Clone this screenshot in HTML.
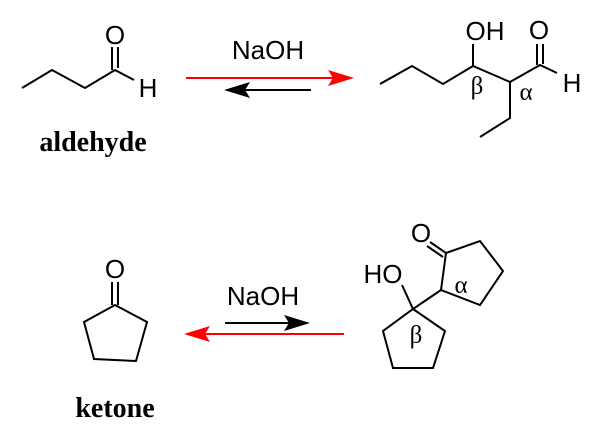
<!DOCTYPE html>
<html><head><meta charset="utf-8"><style>
html,body{margin:0;padding:0;background:#fff}
svg{display:block}
.a{font-family:"Liberation Sans",sans-serif;font-size:26px;fill:#000}
.g{font-family:"Liberation Serif",serif;font-size:25px;fill:#000}
.b{font-family:"Liberation Serif",serif;font-size:28px;font-weight:bold;fill:#000}
</style></head><body>
<svg width="613" height="437" viewBox="0 0 613 437" xmlns="http://www.w3.org/2000/svg">
<g fill="none" stroke="#000" stroke-width="2" stroke-linejoin="miter">
<polyline points="22,88 52,70 85,88 115,70 134,80"/>
<line x1="112" y1="70" x2="112" y2="47"/><line x1="118" y1="68" x2="118" y2="47"/>
<polyline points="380,84 412,66 443,84 473,66 510,82 540,65 557,73"/>
<line x1="473" y1="66" x2="473" y2="44"/>
<line x1="537" y1="65" x2="537" y2="44"/><line x1="543" y1="64" x2="543" y2="44"/>
<polyline points="510,82 510,118 480,137"/>
<polygon points="115,305 147,322 136,361 94,359 84,322"/>
<line x1="112" y1="305" x2="112" y2="282"/><line x1="118" y1="305" x2="118" y2="282"/>
<polygon points="413,309 445,331 433,368 393,368 383,331"/>
<line x1="413" y1="309" x2="402" y2="285"/>
<line x1="413" y1="309" x2="441" y2="290"/>
<polygon points="441,290 446,253 480,241 503,271 480,305"/>
<line x1="446" y1="253" x2="430" y2="242"/><line x1="443" y1="257" x2="427" y2="246"/>
</g>
<line x1="186" y1="78" x2="336" y2="78" stroke="#f00" stroke-width="2"/>
<polygon points="354,78 328,70 333,78 328,86" fill="#f00"/>
<line x1="311" y1="90" x2="240" y2="90" stroke="#000" stroke-width="2"/>
<polygon points="224,90 250,82 245,90 250,98" fill="#000"/>
<line x1="225" y1="323" x2="292" y2="323" stroke="#000" stroke-width="2"/>
<polygon points="310,323 284,315 289,323 284,331" fill="#000"/>
<line x1="344" y1="334" x2="200" y2="334" stroke="#f00" stroke-width="2"/>
<polygon points="184,334 210,326 205,334 210,342" fill="#f00"/>
<text class="a" x="115" y="44" text-anchor="middle">O</text>
<text class="a" x="148" y="97" text-anchor="middle">H</text>
<text class="a" x="268" y="59" text-anchor="middle">NaOH</text>
<text class="a" x="485" y="40" text-anchor="middle">OH</text>
<text class="a" x="539" y="39" text-anchor="middle">O</text>
<text class="a" x="572" y="92" text-anchor="middle">H</text>
<text class="g" x="477" y="94" text-anchor="middle">β</text>
<text class="g" x="526" y="100" text-anchor="middle">α</text>
<text class="b" x="93" y="151" text-anchor="middle">aldehyde</text>
<text class="a" x="115" y="278" text-anchor="middle">O</text>
<text class="a" x="263" y="305" text-anchor="middle">NaOH</text>
<text class="a" x="383" y="283" text-anchor="middle">HO</text>
<text class="a" x="421" y="242" text-anchor="middle">O</text>
<text class="g" x="461" y="293" text-anchor="middle">α</text>
<text class="g" x="416" y="343" text-anchor="middle">β</text>
<text class="b" x="115" y="417" text-anchor="middle">ketone</text>
</svg>
</body></html>
